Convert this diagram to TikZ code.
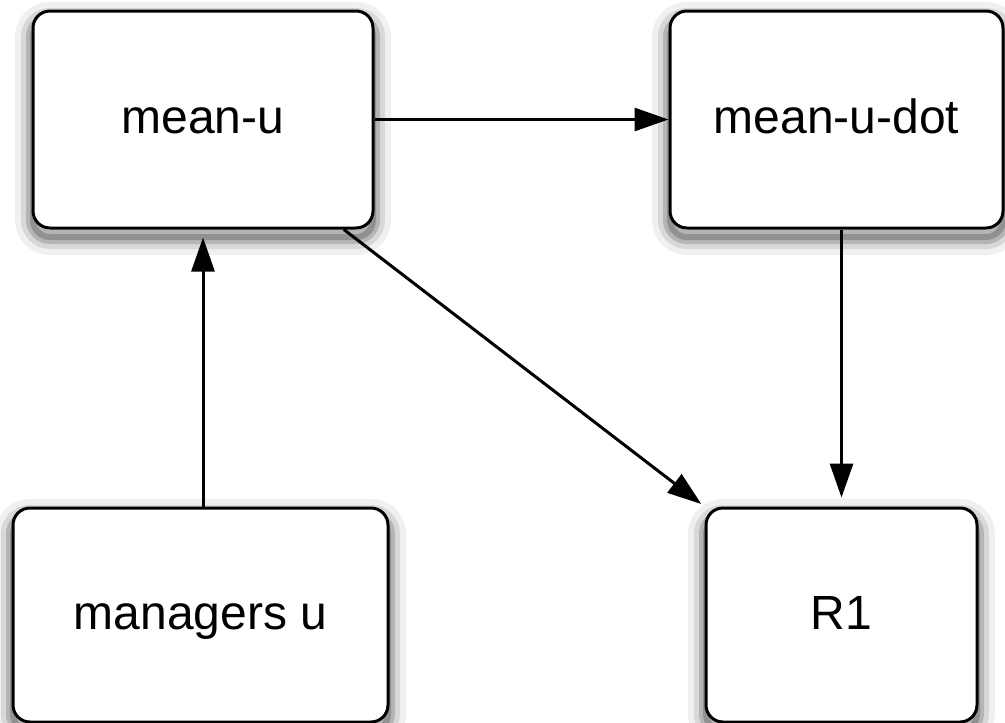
\documentclass[tikz,border=0pt]{standalone}
\usepackage{fontspec}
\setmainfont{Liberation Sans}
\usetikzlibrary{arrows.meta}

\tikzset{
  blk/.style={draw, line width=3pt, rounded corners=17pt, fill=white, inner sep=0pt,
    font=\fontsize{48}{58}\selectfont, text height=28pt, text depth=0pt,
    preaction={draw=black, draw opacity=0.06, line width=36pt, transform canvas={yshift=-9pt}},
    preaction={draw=black, draw opacity=0.10, line width=24pt, transform canvas={yshift=-9pt}},
    preaction={draw=black, draw opacity=0.16, line width=14pt, transform canvas={yshift=-9pt}},
    preaction={draw=black, draw opacity=0.20, line width=6pt, transform canvas={yshift=-9pt}}},
  lnk/.style={line width=3pt, -{Triangle[length=34pt,width=23pt]}}
}

\begin{document}
\begin{tikzpicture}[x=1pt,y=-1pt]
  \useasboundingbox (0,0) rectangle (1005,723);
  % caixas
  \node[blk, minimum width=340pt, minimum height=217pt] (mean-u) at (203,119.5) {mean-u};
  \node[blk, minimum width=333pt, minimum height=217pt] (mean-u-dot) at (836.5,119.5) {mean-u-dot};
  \node[blk, minimum width=375pt, minimum height=214pt] (managers-u) at (200.5,615) {managers u};
  \node[blk, minimum width=271pt, minimum height=214pt] (R1) at (841.5,615) {R1};

  % setas
  \draw[lnk] (mean-u) -- (mean-u-dot);
  \draw[lnk, shorten >=8pt] (managers-u.north -| mean-u.south) -- (mean-u.south);
  \draw[lnk, shorten >=4pt] (mean-u.-38) -- (R1.north west);
  \draw[lnk, shorten >=9pt] (mean-u-dot.south -| R1.north) -- (R1.north);
\end{tikzpicture}
\end{document}
